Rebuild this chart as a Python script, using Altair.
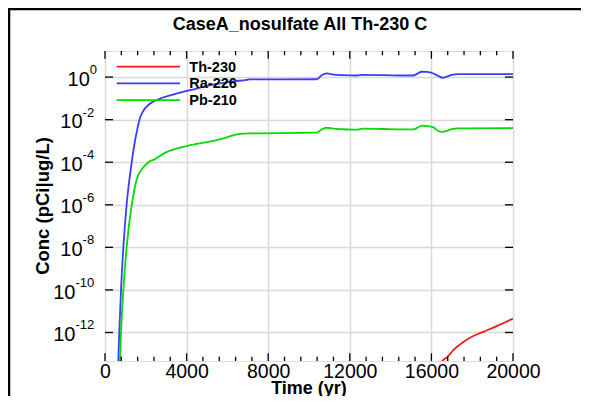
import altair as alt
import pandas as pd

# ---- data ----
ra_t = [640, 655, 700, 785, 900, 1060, 1310, 1440, 1600, 1690, 1850, 2200, 2700, 3500, 4500, 5300, 6300, 6950, 7100,
        10380, 10620, 10870, 11200, 11680, 12340, 12660, 13640, 15110, 15280, 15520, 15770, 16100, 16340, 16550,
        16750, 17000, 17320, 20000]
ra_v = [1e-14, 4.6e-14, 1e-12, 1e-10, 1e-8, 1e-6, 1e-4, 6.8e-4, 4.2e-3, 1e-2, 2.3e-2, 5.6e-2, 9.8e-2, 0.166, 0.288,
        0.447, 0.63, 0.74, 0.78, 0.79, 1.23, 1.48, 1.32, 1.23, 1.19, 1.26, 1.23, 1.19, 1.38, 1.78, 1.74, 1.48, 1.12,
        0.93, 1.05, 1.26, 1.38, 1.38]

pb_t = [720, 735, 785, 900, 1060, 1310, 1420, 1550, 1800, 2130, 2450, 2940, 3680, 4490, 5310, 5900, 6600, 7100,
        10380, 10620, 10870, 11190, 11680, 12340, 12660, 13640, 15110, 15280, 15520, 15770, 16100, 16340, 16550,
        16750, 17000, 17320, 20000]
pb_v = [1e-14, 4.6e-14, 1e-12, 1e-10, 1e-8, 1e-6, 4.0e-6, 1.5e-5, 4.6e-5, 1.0e-4, 1.4e-4, 2.75e-4, 4.8e-4, 7.2e-4,
        1.02e-3, 1.41e-3, 2.14e-3, 2.26e-3, 2.45e-3, 3.47e-3, 4.17e-3, 3.80e-3, 3.55e-3, 3.39e-3, 3.80e-3, 3.63e-3,
        3.47e-3, 3.98e-3, 5.25e-3, 5.01e-3, 4.37e-3, 2.88e-3, 2.69e-3, 2.95e-3, 3.55e-3, 3.89e-3, 3.98e-3]

th_t = [16400, 16540, 16750, 17075, 17565, 18055, 18530, 19200, 20000]
th_v = [2.0e-14, 4.6e-14, 6.6e-14, 1.48e-13, 3.6e-13, 6.8e-13, 1.07e-12, 2.0e-12, 4.5e-12]

series = ["Th-230", "Ra-226", "Pb-210"]
colors = ["#ee1c1c", "#3c3cff", "#00dd00"]

x_major = [0, 4000, 8000, 12000, 16000, 20000]
x_minor = [800, 1600, 2400, 3200, 4800, 5600, 6400, 7200, 8800, 9600, 10400, 11200, 12800, 13600, 14400, 15200,
           16800, 17600, 18400, 19200]
y_major = [1e-12, 1e-10, 1e-8, 1e-6, 1e-4, 1e-2, 1e0]
y_exp = ["-12", "-10", "-8", "-6", "-4", "-2", "0"]

W, H = 408, 310
FONT = "Liberation Sans"
YDOM = [10 ** -13.34, 10 ** 1.226]

rows = []
for name, ts, vs in [("Th-230", th_t, th_v), ("Ra-226", ra_t, ra_v), ("Pb-210", pb_t, pb_v)]:
    for t, v in zip(ts, vs):
        rows.append({"series": name, "t": t, "v": v})
df = pd.DataFrame(rows)

xs = alt.Scale(domain=[0, 20000], nice=False, zero=False)
ys = alt.Scale(type="log", domain=YDOM, nice=False)

# grid + x labels
base_axes = alt.Chart(pd.DataFrame({"t": [0], "v": [1.0]})).mark_point(opacity=0).encode(
    x=alt.X("t:Q", scale=xs, axis=alt.Axis(values=x_major, grid=True, gridColor="#d9d9d9", gridWidth=1.5,
                                           ticks=False, tickSize=0, domain=False, title=None, labelFont=FONT,
                                           labelFontSize=19.5, labelColor="black", labelPadding=1.5,
                                           labelFlush=False, format="d")),
    y=alt.Y("v:Q", scale=ys, axis=alt.Axis(values=y_major, grid=True, gridColor="#d9d9d9", gridWidth=1.5,
                                           ticks=False, tickSize=0, domain=False, labels=False, title=None)),
)

lines = alt.Chart(df).mark_line(strokeWidth=1.8, clip=True, interpolate="monotone").encode(
    x=alt.X("t:Q", scale=xs),
    y=alt.Y("v:Q", scale=ys),
    color=alt.Color("series:N", scale=alt.Scale(domain=series, range=colors), legend=None),
    detail="series:N",
)

# ticks (inward)
xmaj = pd.DataFrame({"t": x_major})
xmin = pd.DataFrame({"t": x_minor})
tick_style = dict(color="black", strokeWidth=1.3)
bot_maj = alt.Chart(xmaj).mark_rule(**tick_style).encode(x=alt.X("t:Q", scale=xs), y=alt.value(H), y2=alt.value(H - 7.7))
bot_min = alt.Chart(xmin).mark_rule(**tick_style).encode(x=alt.X("t:Q", scale=xs), y=alt.value(H), y2=alt.value(H - 4.3))
top_maj = alt.Chart(xmaj).mark_rule(**tick_style).encode(x=alt.X("t:Q", scale=xs), y=alt.value(0), y2=alt.value(7.7))
top_min = alt.Chart(xmin).mark_rule(**tick_style).encode(x=alt.X("t:Q", scale=xs), y=alt.value(0), y2=alt.value(4.3))

ydf = pd.DataFrame({"v": y_major, "exp": y_exp})
left_t = alt.Chart(ydf).mark_rule(**tick_style).encode(y=alt.Y("v:Q", scale=ys), x=alt.value(0), x2=alt.value(8))
right_t = alt.Chart(ydf).mark_rule(**tick_style).encode(y=alt.Y("v:Q", scale=ys), x=alt.value(W), x2=alt.value(W - 8))

# y labels as 10 + superscript exponent
ylab = alt.Chart(ydf).transform_calculate(xe="-8 - 7.2 * length(datum.exp)")
ybase = ylab.mark_text(text="10", font=FONT, fontSize=20, align="right", baseline="alphabetic", dy=8.7,
                       color="black").encode(y=alt.Y("v:Q", scale=ys), x=alt.X("xe:Q", scale=None))
yexp = ylab.mark_text(font=FONT, fontSize=13, align="left", baseline="alphabetic", dy=-3,
                      color="black").encode(y=alt.Y("v:Q", scale=ys), x=alt.X("xe:Q", scale=None), text="exp:N")

# legend
leg = pd.DataFrame({"series": series, "idx": [0, 1, 2]})
legc = alt.Chart(leg).transform_calculate(ly="15.7 + 16.7 * datum.idx")
leg_lines = legc.mark_rule(strokeWidth=1.8).encode(
    x=alt.value(11.7), x2=alt.value(75), y=alt.Y("ly:Q", scale=None),
    color=alt.Color("series:N", scale=alt.Scale(domain=series, range=colors), legend=None))
leg_text = legc.mark_text(font=FONT, fontSize=14.5, fontWeight="bold", align="left", baseline="middle",
                          color="black", dy=1).encode(
    x=alt.value(84.3), y=alt.Y("ly:Q", scale=None), text="series:N")

# titles
title_df = pd.DataFrame({"s": ["CaseA_nosulfate All Th-230 C"]})
title = alt.Chart(title_df).mark_text(font=FONT, fontSize=18, fontWeight="bold", align="center",
                                      baseline="alphabetic", color="black").encode(
    x=alt.value(195), y=alt.value(-21), text="s:N")
xt = alt.Chart(pd.DataFrame({"s": ["Time (yr)"]})).mark_text(font=FONT, fontSize=18, fontWeight="bold",
                                                              align="center", baseline="alphabetic",
                                                              color="black").encode(
    x=alt.value(W / 2), y=alt.value(342.5), text="s:N")
yt = alt.Chart(pd.DataFrame({"s": ["Conc (pCi|ug/L)"]})).mark_text(font=FONT, fontSize=18.5, fontWeight="bold",
                                                                    align="center", baseline="middle", angle=270,
                                                                    color="black").encode(
    x=alt.value(-62.5), y=alt.value(155), text="s:N")

# outer figure border (left and top)
border_l = alt.Chart(pd.DataFrame({"a": [0]})).mark_rule(color="black", strokeWidth=2.5).encode(
    x=alt.value(-96), y=alt.value(-43), y2=alt.value(345))
border_t = alt.Chart(pd.DataFrame({"a": [0]})).mark_rule(color="black", strokeWidth=2.5).encode(
    x=alt.value(-97), x2=alt.value(476), y=alt.value(-42))

chart = alt.layer(
    base_axes, lines, bot_maj, bot_min, top_maj, top_min, left_t, right_t, ybase, yexp,
    leg_lines, leg_text, title, xt, yt, border_l, border_t
).properties(
    width=W, height=H,
    autosize=alt.AutoSizeParams(type="none"),
    padding={"left": 97, "top": 43, "right": 68, "bottom": 35},
).configure_view(
    stroke="#222222", strokeWidth=2
).configure(background="white")

chart.save("out.html", embed_options={"renderer": "svg", "actions": False})
